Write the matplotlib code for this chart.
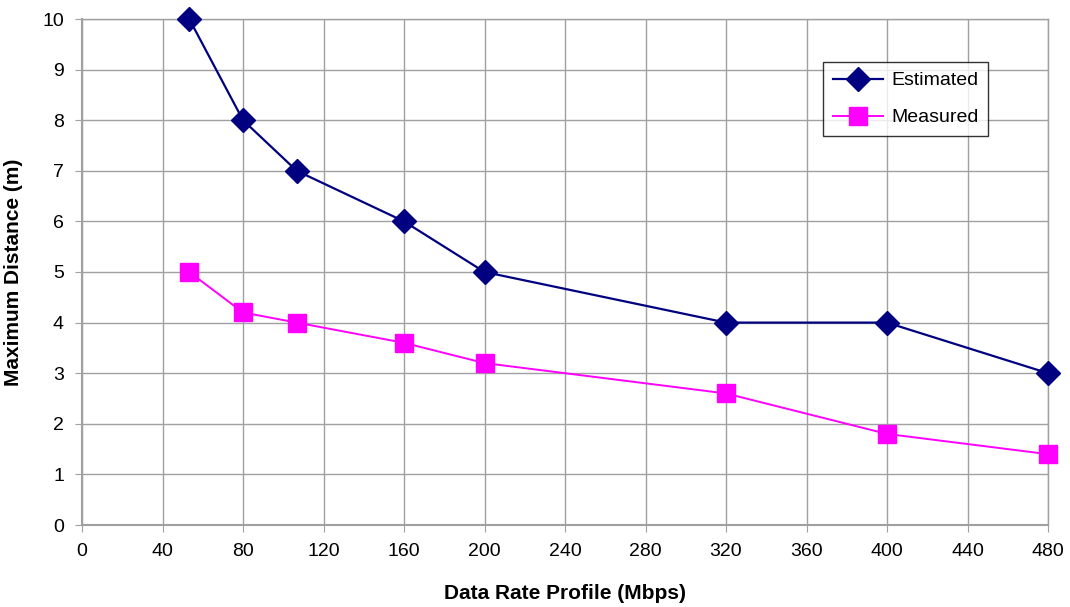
import matplotlib
matplotlib.use("Agg")
import matplotlib.pyplot as plt

plt.rcParams['font.family'] = ['Liberation Sans', 'DejaVu Sans']

data_rate = [53.3, 80, 106.7, 160, 200, 320, 400, 480]
estimated = [10, 8, 7, 6, 5, 4, 4, 3]
measured = [5, 4.2, 4, 3.6, 3.2, 2.6, 1.8, 1.4]
x_ticks = list(range(0, 481, 40))
y_ticks = list(range(0, 11))

fig = plt.figure(figsize=(10.7, 6.07), dpi=100)
ax = fig.add_axes([82 / 1070, 1 - 525 / 607, (1048 - 82) / 1070, (525 - 19) / 607])

grid_color = '#a0a0a0'
ax.set_xlim(0, 480)
ax.set_ylim(0, 10)
ax.set_xticks(x_ticks)
ax.set_yticks(y_ticks)
ax.grid(True, color=grid_color, linewidth=1.0)
ax.set_axisbelow(True)
for s in ax.spines.values():
    s.set_color(grid_color)
    s.set_linewidth(1.0)
ax.spines['left'].set_linewidth(1.5)
ax.spines['bottom'].set_linewidth(1.5)
ax.tick_params(axis='both', direction='out', length=5, color=grid_color,
               labelsize=14, pad=8)

ax.plot(data_rate, estimated, color='#000080', linewidth=1.6, marker='D',
        markersize=12, label='Estimated', clip_on=False, zorder=3)
ax.plot(data_rate, measured, color='#ff00ff', linewidth=1.4, marker='s',
        markersize=13.5, label='Measured', clip_on=False, zorder=3)

ax.set_xlabel('Data Rate Profile (Mbps)', fontsize=15, fontweight='bold', labelpad=17)
ax.set_ylabel('Maximum Distance (m)', fontsize=15, fontweight='bold', labelpad=14)

leg = ax.legend(loc='upper left', bbox_to_anchor=((823 - 82) / 966, 1 - (62 - 19) / 506),
                frameon=True, fancybox=False, edgecolor='black', fontsize=14,
                borderpad=0.5, labelspacing=1.0, handlelength=2.6, handletextpad=0.4,
                borderaxespad=0)
leg.get_frame().set_linewidth(1.0)

fig.savefig('out.png', dpi=100, facecolor='white')
